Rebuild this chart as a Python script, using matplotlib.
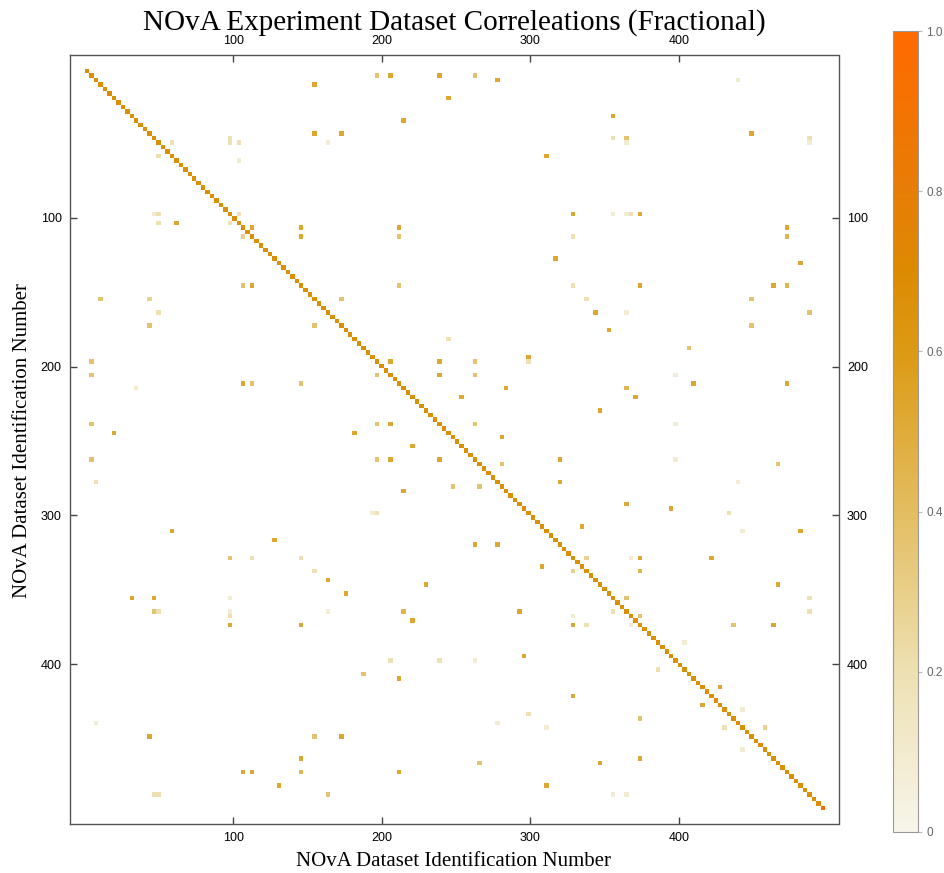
import matplotlib
matplotlib.use('Agg')
import matplotlib.pyplot as plt
import numpy as np
from matplotlib.colors import LinearSegmentedColormap

# matrix is 166 x 166 cells, each cell covers 3 dataset ids
n_cells = 166
ids_per_cell = 3

# diagonal cells (last cell is a partial block -> full 1.0)
diag_vals = [0.67] * 165 + [1.0]

# off-diagonal cells, grouped by colour level
level_vals = {'vp': 0.08, 'p': 0.2, 'lp': 0.28, 'l': 0.36, 'lm': 0.44, 'm': 0.52}

cells_vp = [(2, 146), (16, 54), (16, 121), (16, 162), (20, 34), (32, 118), (32, 121),
            (54, 121), (68, 132), (79, 132), (87, 132), (92, 146), (103, 147), (109, 122),
            (128, 134), (143, 147),
            (32, 15), (99, 64), (124, 122), (152, 147), (162, 118), (162, 121),
            (146, 2), (118, 32), (121, 32), (121, 54), (132, 87), (146, 92), (147, 103),
            (122, 109), (71, 11)]

cells_p = [(15, 32), (16, 19), (16, 32), (16, 34), (32, 34), (15, 118), (15, 162),
           (32, 122), (37, 109), (48, 109), (51, 112), (60, 81), (65, 99), (99, 144),
           (118, 162), (121, 162),
           (19, 16), (32, 16), (34, 16), (34, 32), (99, 65), (121, 118), (124, 112),
           (134, 128), (147, 143),
           (109, 37), (109, 48), (162, 15), (162, 16), (121, 16), (122, 32), (112, 51),
           (144, 99), (92, 2), (54, 16), (132, 68), (132, 79)]

cells_lp = [(109, 112), (147, 152),
            (37, 35), (51, 14),
            (112, 109)]

cells_l = [(1, 65), (1, 87), (15, 121), (37, 70), (48, 70), (51, 57), (51, 149),
           (54, 162), (57, 149), (62, 135), (65, 87), (68, 87), (79, 87), (88, 93),
           (88, 155), (118, 121), (122, 124), (124, 145),
           (48, 35), (51, 3), (68, 65), (79, 65), (87, 65), (93, 82), (93, 88), (145, 124),
           (65, 1), (68, 1), (79, 1), (87, 1), (57, 14), (109, 32), (70, 37), (70, 48),
           (57, 51), (121, 15), (149, 51), (162, 54), (135, 62), (155, 88)]

cells_lm = [(37, 157), (48, 157), (71, 121), (112, 124),
            (157, 48), (121, 71)]

cells_m = [(1, 68), (1, 79), (2, 92), (3, 51), (6, 81), (10, 118), (11, 71), (14, 51),
           (14, 57), (14, 149), (19, 103), (32, 109), (32, 124), (35, 37), (35, 48),
           (35, 70), (35, 157), (37, 48), (42, 105), (43, 160), (48, 124), (48, 154),
           (54, 114), (58, 117), (64, 99), (65, 68), (65, 79), (68, 79), (70, 136),
           (70, 157), (71, 94), (73, 84), (73, 123), (76, 115), (82, 93), (87, 106),
           (92, 106), (97, 121), (98, 131), (102, 111), (103, 160), (109, 124),
           (109, 140), (115, 155), (124, 154), (138, 142),
           (34, 20), (48, 37), (79, 68), (81, 60), (84, 73), (87, 68), (87, 79), (94, 71),
           (106, 87), (106, 92), (111, 102), (142, 138), (154, 124), (155, 115),
           (81, 6), (103, 19), (70, 35), (105, 42), (118, 10), (118, 15), (149, 14),
           (124, 32), (157, 35), (157, 37), (160, 43), (124, 48), (154, 48), (114, 54),
           (149, 57), (117, 58), (136, 70), (157, 70), (123, 73), (115, 76), (121, 97),
           (131, 98), (160, 103), (124, 109), (140, 109)]

cbar_ticks = [0, 0.2, 0.4, 0.6, 0.8, 1.0]
cbar_labels = ['0', '0.2', '0.4', '0.6', '0.8', '1.0']
axis_ticks = [100, 200, 300, 400]

# build matrix
mat = np.zeros((n_cells, n_cells))
for k, v in enumerate(diag_vals):
    mat[k, k] = v
for name, cells in [('vp', cells_vp), ('p', cells_p), ('lp', cells_lp),
                    ('l', cells_l), ('lm', cells_lm), ('m', cells_m)]:
    for r, c in cells:
        mat[r, c] = level_vals[name]
mat = np.ma.masked_equal(mat, 0)

cmap = LinearSegmentedColormap.from_list('nova', [
    (0.0, '#f7f5ea'), (0.2, '#ede0b2'), (0.4, '#e3bd60'), (0.6, '#dc9a14'),
    (0.7, '#dc8b00'), (0.8, '#e77d06'), (1.0, '#ff6a00')])
cmap.set_bad('white')

fig = plt.figure(figsize=(9.44, 8.73), dpi=100)
ax = fig.add_axes([70 / 944, 49 / 873, 768.5 / 944, 769 / 873])

span = n_cells * ids_per_cell
im = ax.imshow(mat, cmap=cmap, vmin=0, vmax=1, interpolation='nearest',
               extent=(0, span, span, 0), aspect='auto')
ax.set_xlim(-10, 507.5)
ax.set_ylim(507.5, -9.5)

ax.set_xticks(axis_ticks)
ax.set_yticks(axis_ticks)
ax.tick_params(top=True, labeltop=True, right=True, labelright=True,
               direction='in', length=5, width=1, color='#444444',
               labelsize=9, pad=6)
for lab in ax.get_xticklabels() + ax.get_yticklabels():
    lab.set_family('Liberation Sans')
for sp in ax.spines.values():
    sp.set_color('#555555')
    sp.set_linewidth(1)

fig.text(454 / 944, 1 - 30 / 873, 'NOvA Experiment Dataset Correleations (Fractional)',
         ha='center', va='baseline', family='Liberation Serif', fontsize=21)
fig.text(454 / 944, 12 / 873, 'NOvA Dataset Identification Number',
         ha='center', va='center', family='Liberation Serif', fontsize=15)
fig.text(23 / 944, 433 / 873, 'NOvA Dataset Identification Number',
         ha='center', va='center', rotation=90, family='Liberation Serif', fontsize=15)

cax = fig.add_axes([893 / 944, 41 / 873, 25 / 944, 801 / 873])
cb = fig.colorbar(im, cax=cax, ticks=cbar_ticks)
cb.ax.set_yticklabels(cbar_labels)
cb.outline.set_edgecolor('#999999')
cb.outline.set_linewidth(0.8)
cb.ax.tick_params(length=3, width=0.8, color='#bbbbbb', labelcolor='#666666',
                  labelsize=8.5, pad=3)
for lab in cb.ax.get_yticklabels():
    lab.set_family('Liberation Sans')

fig.savefig('out.png', dpi=100)
